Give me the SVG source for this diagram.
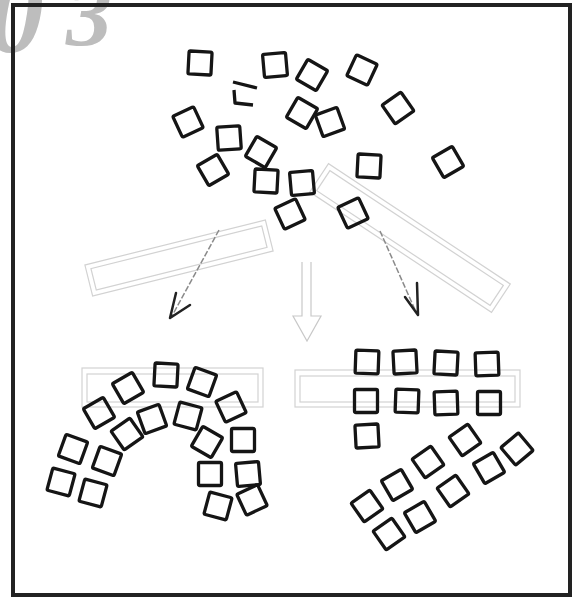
<svg xmlns="http://www.w3.org/2000/svg" xmlns:xlink="http://www.w3.org/1999/xlink" width="575" height="600" viewBox="0 0 575 600">
<style>
.sq{fill:none;stroke:#151515;stroke-width:3.3;stroke-linejoin:round}
.bar{fill:none;stroke:#d2d2d2;stroke-width:1.2}
.ghost{fill:none;stroke:#c8c8c8;stroke-width:1.2}
.arrow{fill:none;stroke:#8a8a8a;stroke-width:1.5}
.head{fill:none;stroke:#222;stroke-width:2.5;stroke-linecap:round;stroke-linejoin:round}
.wm{font-family:"Liberation Serif",serif;font-style:italic;font-weight:bold;fill:#bdbdbd}
</style>
<defs>
<rect id="sq" class="sq" x="-11.5" y="-11.5" width="23" height="23" rx="1.5"/>
</defs>
<rect width="575" height="600" fill="#fff"/>
<text class="wm" x="-12" y="52" font-size="112">0</text>
<text class="wm" x="66" y="45" font-size="92">3</text>
<rect x="13" y="5" width="557" height="590" fill="none" stroke="#222" stroke-width="4"/>

<g id="bars">
<g transform="translate(179,258) rotate(-14)">
<rect class="bar" x="-93" y="-16" width="186" height="32"/>
<rect class="bar" x="-88" y="-11" width="176" height="22"/>
</g>
<g transform="translate(410,238) rotate(33.5)">
<rect class="bar" x="-109" y="-17" width="218" height="34"/>
<rect class="bar" x="-104" y="-12" width="208" height="24"/>
</g>
<rect class="bar" x="82" y="368" width="181" height="39"/>
<rect class="bar" x="87" y="374" width="171" height="28"/>
<rect class="bar" x="295" y="370" width="225" height="37"/>
<rect class="bar" x="300" y="376" width="215" height="26"/>
</g>

<g id="connectors">
<path class="arrow" d="M219 230 L172 316" stroke-dasharray="6 2"/>
<path class="head" d="M176 293 L170 318 L190 305"/>
<path class="ghost" d="M302 262 L302 316 L293 316 L307 341 L321 316 L311 316 L311 262"/>
<path class="arrow" d="M380 231 L416 312" stroke-dasharray="6 2"/>
<path class="head" d="M405 297 L418 315 L417 283"/>
</g>

<g id="scatter">
<use xlink:href="#sq" transform="translate(200,63) rotate(3)"/>
<use xlink:href="#sq" transform="translate(275,65) rotate(-5)"/>
<use xlink:href="#sq" transform="translate(312,75) rotate(30)"/>
<use xlink:href="#sq" transform="translate(362,70) rotate(25)"/>
<use xlink:href="#sq" transform="translate(302,113) rotate(30)"/>
<use xlink:href="#sq" transform="translate(330,122) rotate(-20)"/>
<use xlink:href="#sq" transform="translate(398,108) rotate(-35)"/>
<use xlink:href="#sq" transform="translate(188,122) rotate(-25)"/>
<use xlink:href="#sq" transform="translate(229,138) rotate(-4)"/>
<use xlink:href="#sq" transform="translate(261,152) rotate(30)"/>
<use xlink:href="#sq" transform="translate(213,170) rotate(-30)"/>
<use xlink:href="#sq" transform="translate(266,181) rotate(3)"/>
<use xlink:href="#sq" transform="translate(302,183) rotate(-5)"/>
<use xlink:href="#sq" transform="translate(369,166) rotate(3)"/>
<use xlink:href="#sq" transform="translate(448,162) rotate(-30)"/>
<use xlink:href="#sq" transform="translate(290,214) rotate(-25)"/>
<use xlink:href="#sq" transform="translate(353,213) rotate(-25)"/>
<path class="sq" d="M233 82 L257 88 M234 90 L235 103 L253 105"/>
</g>

<g id="arch">
<use xlink:href="#sq" transform="translate(61,482) rotate(15)"/>
<use xlink:href="#sq" transform="translate(73,449) rotate(20)"/>
<use xlink:href="#sq" transform="translate(99,413) rotate(-30)"/>
<use xlink:href="#sq" transform="translate(128,388) rotate(-30)"/>
<use xlink:href="#sq" transform="translate(166,375) rotate(3)"/>
<use xlink:href="#sq" transform="translate(202,382) rotate(20)"/>
<use xlink:href="#sq" transform="translate(231,407) rotate(-25)"/>
<use xlink:href="#sq" transform="translate(243,440) rotate(0)"/>
<use xlink:href="#sq" transform="translate(248,474) rotate(-5)"/>
<use xlink:href="#sq" transform="translate(252,500) rotate(-25)"/>
<use xlink:href="#sq" transform="translate(93,493) rotate(15)"/>
<use xlink:href="#sq" transform="translate(107,461) rotate(20)"/>
<use xlink:href="#sq" transform="translate(127,434) rotate(-35)"/>
<use xlink:href="#sq" transform="translate(152,419) rotate(-20)"/>
<use xlink:href="#sq" transform="translate(188,416) rotate(15)"/>
<use xlink:href="#sq" transform="translate(207,442) rotate(30)"/>
<use xlink:href="#sq" transform="translate(210,474) rotate(0)"/>
<use xlink:href="#sq" transform="translate(218,506) rotate(15)"/>
</g>

<g id="grid">
<use xlink:href="#sq" transform="translate(367,362) rotate(2)"/>
<use xlink:href="#sq" transform="translate(405,362) rotate(-3)"/>
<use xlink:href="#sq" transform="translate(446,363) rotate(3)"/>
<use xlink:href="#sq" transform="translate(487,364) rotate(-2)"/>
<use xlink:href="#sq" transform="translate(366,401) rotate(0)"/>
<use xlink:href="#sq" transform="translate(407,401) rotate(2)"/>
<use xlink:href="#sq" transform="translate(446,403) rotate(-2)"/>
<use xlink:href="#sq" transform="translate(489,403) rotate(0)"/>
<use xlink:href="#sq" transform="translate(367,436) rotate(-3)"/>
</g>

<g id="strip">
<use xlink:href="#sq" transform="translate(367,506) rotate(-35)"/>
<use xlink:href="#sq" transform="translate(397,485) rotate(-30)"/>
<use xlink:href="#sq" transform="translate(428,462) rotate(-35)"/>
<use xlink:href="#sq" transform="translate(465,440) rotate(-35)"/>
<use xlink:href="#sq" transform="translate(517,449) rotate(-40)"/>
<use xlink:href="#sq" transform="translate(389,534) rotate(-35)"/>
<use xlink:href="#sq" transform="translate(420,517) rotate(-30)"/>
<use xlink:href="#sq" transform="translate(453,491) rotate(-35)"/>
<use xlink:href="#sq" transform="translate(489,468) rotate(-30)"/>
</g>
</svg>
